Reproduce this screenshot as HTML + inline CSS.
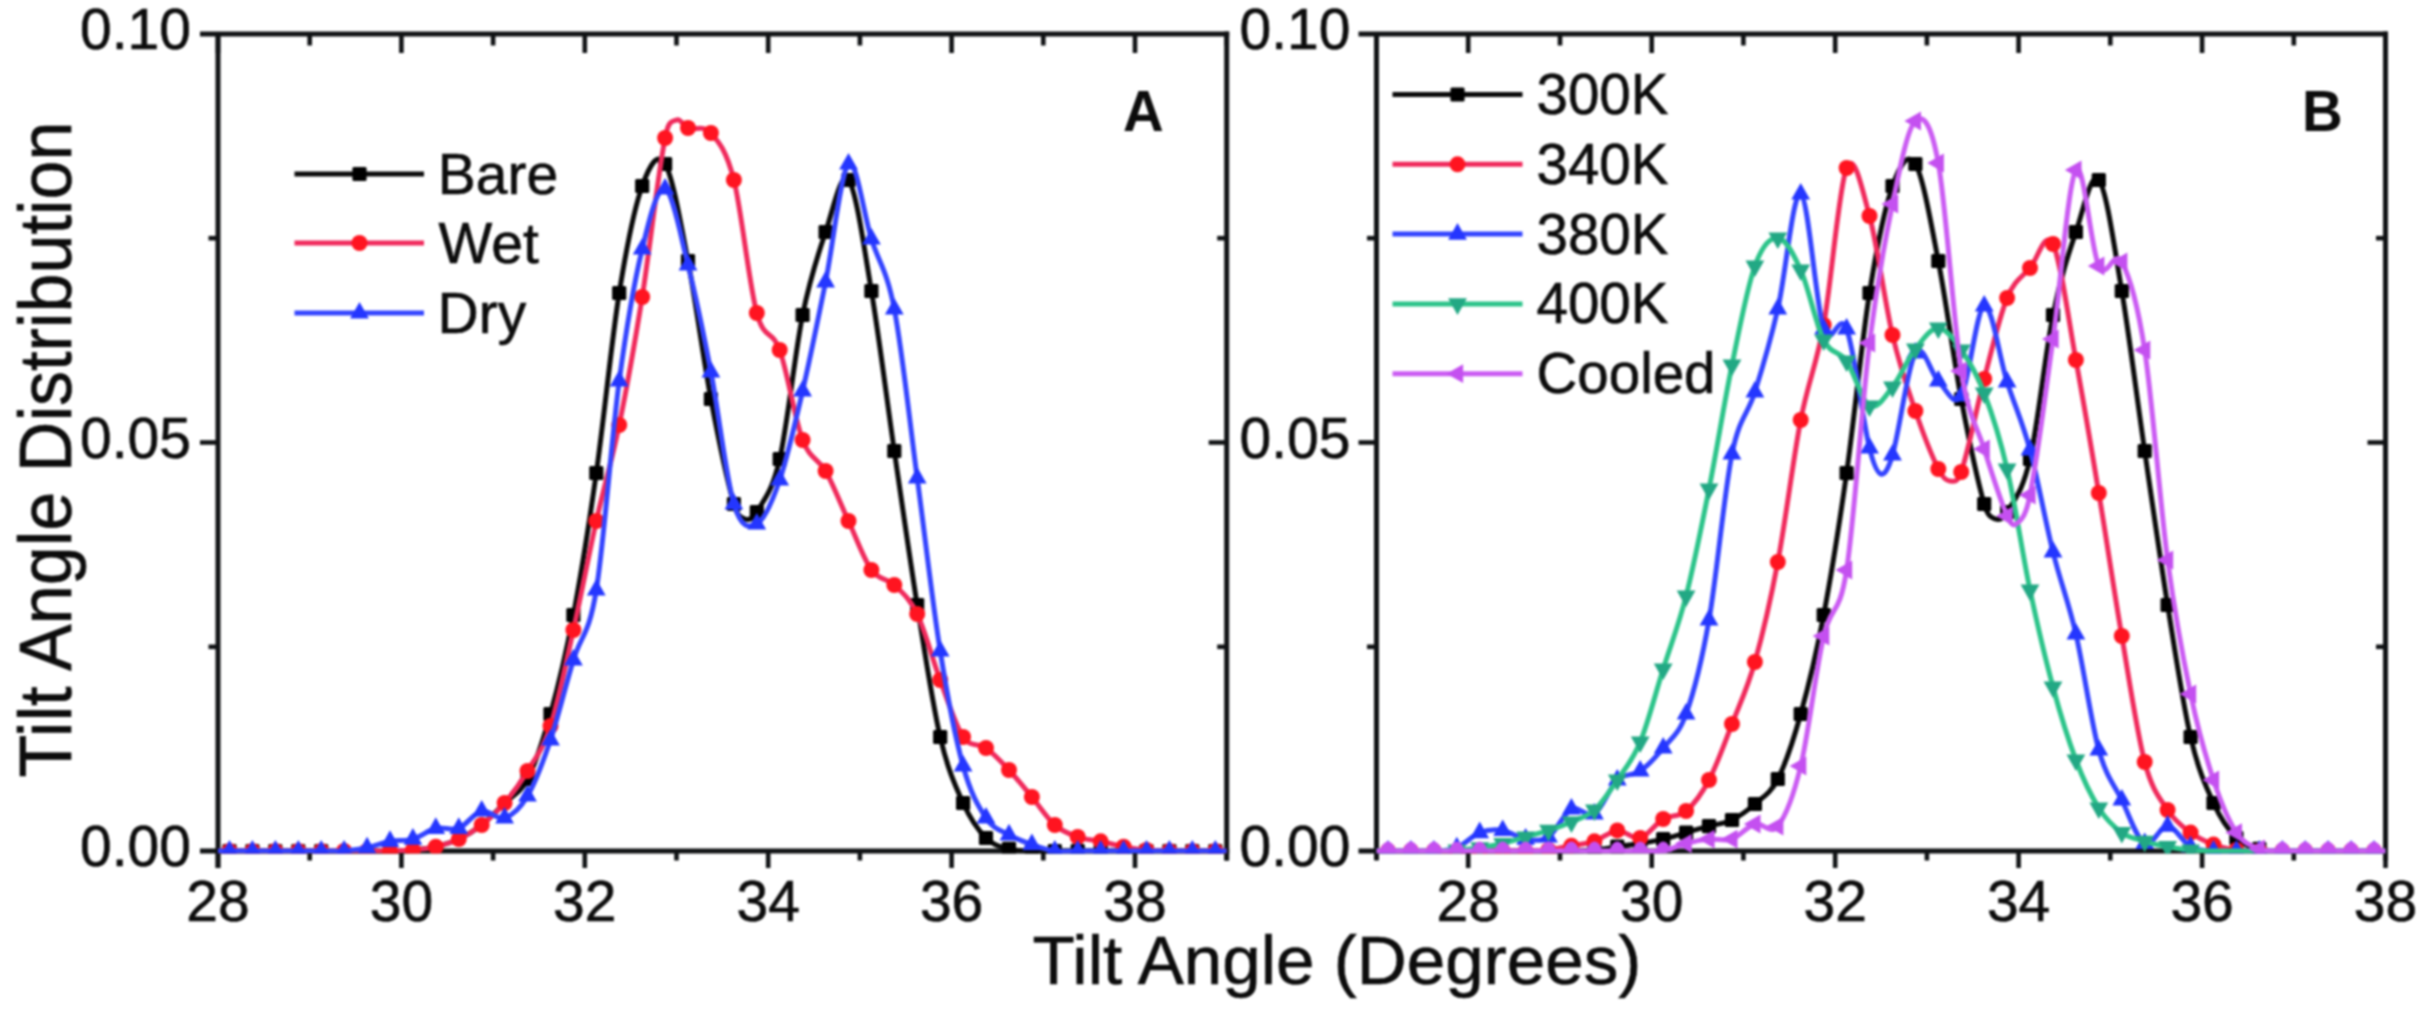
<!DOCTYPE html>
<html lang="en"><head><meta charset="utf-8"><title>Tilt Angle Distribution</title>
<style>
html,body{margin:0;padding:0;background:#fff;}
body{width:2421px;height:1010px;overflow:hidden;font-family:"Liberation Sans",Arial,sans-serif;}
</style></head><body>
<svg width="2421" height="1010" viewBox="0 0 2421 1010" style="display:block;filter:blur(1.3px)">
<rect width="2421" height="1010" fill="#ffffff"/>
<path d="M200.0 34.0 H1229.2" stroke="#101214" stroke-width="5" fill="none"/>
<path d="M200.0 851.0 H1229.2" stroke="#101214" stroke-width="5" fill="none"/>
<path d="M218.0 34.0 V868.0" stroke="#101214" stroke-width="5" fill="none"/>
<path d="M1226.7 31.5 V860.5" stroke="#101214" stroke-width="5" fill="none"/>
<path d="M218.0 34.0 v19.0 M218.0 851.0 v17.0" stroke="#101214" stroke-width="4.6" fill="none"/>
<path d="M309.7 34.0 v11.5 M309.7 851.0 v9.5" stroke="#101214" stroke-width="4.6" fill="none"/>
<path d="M401.4 34.0 v19.0 M401.4 851.0 v17.0" stroke="#101214" stroke-width="4.6" fill="none"/>
<path d="M493.1 34.0 v11.5 M493.1 851.0 v9.5" stroke="#101214" stroke-width="4.6" fill="none"/>
<path d="M584.8 34.0 v19.0 M584.8 851.0 v17.0" stroke="#101214" stroke-width="4.6" fill="none"/>
<path d="M676.5 34.0 v11.5 M676.5 851.0 v9.5" stroke="#101214" stroke-width="4.6" fill="none"/>
<path d="M768.2 34.0 v19.0 M768.2 851.0 v17.0" stroke="#101214" stroke-width="4.6" fill="none"/>
<path d="M859.9 34.0 v11.5 M859.9 851.0 v9.5" stroke="#101214" stroke-width="4.6" fill="none"/>
<path d="M951.6 34.0 v19.0 M951.6 851.0 v17.0" stroke="#101214" stroke-width="4.6" fill="none"/>
<path d="M1043.3 34.0 v11.5 M1043.3 851.0 v9.5" stroke="#101214" stroke-width="4.6" fill="none"/>
<path d="M1135.0 34.0 v19.0 M1135.0 851.0 v17.0" stroke="#101214" stroke-width="4.6" fill="none"/>
<path d="M1226.7 34.0 v11.5 M1226.7 851.0 v9.5" stroke="#101214" stroke-width="4.6" fill="none"/>
<path d="M208.5 646.8 h9.5" stroke="#101214" stroke-width="4.6" fill="none"/>
<path d="M1217.2 646.8 h9.5" stroke="#101214" stroke-width="4.6" fill="none"/>
<path d="M200.0 442.5 h18.0" stroke="#101214" stroke-width="4.6" fill="none"/>
<path d="M1208.7 442.5 h18.0" stroke="#101214" stroke-width="4.6" fill="none"/>
<path d="M208.5 238.2 h9.5" stroke="#101214" stroke-width="4.6" fill="none"/>
<path d="M1217.2 238.2 h9.5" stroke="#101214" stroke-width="4.6" fill="none"/>
<path d="M1358.5 34.0 H2388.0" stroke="#101214" stroke-width="5" fill="none"/>
<path d="M1358.5 851.0 H2388.0" stroke="#101214" stroke-width="5" fill="none"/>
<path d="M1376.5 34.0 V860.0" stroke="#101214" stroke-width="5" fill="none"/>
<path d="M2385.5 31.5 V860.5" stroke="#101214" stroke-width="5" fill="none"/>
<path d="M1376.5 34.0 v11.5 M1376.5 851.0 v9.5" stroke="#101214" stroke-width="4.6" fill="none"/>
<path d="M1468.2 34.0 v19.0 M1468.2 851.0 v17.0" stroke="#101214" stroke-width="4.6" fill="none"/>
<path d="M1560.0 34.0 v11.5 M1560.0 851.0 v9.5" stroke="#101214" stroke-width="4.6" fill="none"/>
<path d="M1651.7 34.0 v19.0 M1651.7 851.0 v17.0" stroke="#101214" stroke-width="4.6" fill="none"/>
<path d="M1743.4 34.0 v11.5 M1743.4 851.0 v9.5" stroke="#101214" stroke-width="4.6" fill="none"/>
<path d="M1835.2 34.0 v19.0 M1835.2 851.0 v17.0" stroke="#101214" stroke-width="4.6" fill="none"/>
<path d="M1926.9 34.0 v11.5 M1926.9 851.0 v9.5" stroke="#101214" stroke-width="4.6" fill="none"/>
<path d="M2018.6 34.0 v19.0 M2018.6 851.0 v17.0" stroke="#101214" stroke-width="4.6" fill="none"/>
<path d="M2110.3 34.0 v11.5 M2110.3 851.0 v9.5" stroke="#101214" stroke-width="4.6" fill="none"/>
<path d="M2202.1 34.0 v19.0 M2202.1 851.0 v17.0" stroke="#101214" stroke-width="4.6" fill="none"/>
<path d="M2293.8 34.0 v11.5 M2293.8 851.0 v9.5" stroke="#101214" stroke-width="4.6" fill="none"/>
<path d="M2385.5 34.0 v19.0 M2385.5 851.0 v17.0" stroke="#101214" stroke-width="4.6" fill="none"/>
<path d="M1367.0 646.8 h9.5" stroke="#101214" stroke-width="4.6" fill="none"/>
<path d="M2376.0 646.8 h9.5" stroke="#101214" stroke-width="4.6" fill="none"/>
<path d="M1358.5 442.5 h18.0" stroke="#101214" stroke-width="4.6" fill="none"/>
<path d="M2367.5 442.5 h18.0" stroke="#101214" stroke-width="4.6" fill="none"/>
<path d="M1367.0 238.2 h9.5" stroke="#101214" stroke-width="4.6" fill="none"/>
<path d="M2376.0 238.2 h9.5" stroke="#101214" stroke-width="4.6" fill="none"/>
<text x="218.0" y="920.5" font-size="57.0" text-anchor="middle" font-family="Liberation Sans, Arial, sans-serif" fill="#0c0c0c" stroke="#0c0c0c" stroke-width="0.6" >28</text>
<text x="1468.2" y="920.5" font-size="57.0" text-anchor="middle" font-family="Liberation Sans, Arial, sans-serif" fill="#0c0c0c" stroke="#0c0c0c" stroke-width="0.6" >28</text>
<text x="401.4" y="920.5" font-size="57.0" text-anchor="middle" font-family="Liberation Sans, Arial, sans-serif" fill="#0c0c0c" stroke="#0c0c0c" stroke-width="0.6" >30</text>
<text x="1651.7" y="920.5" font-size="57.0" text-anchor="middle" font-family="Liberation Sans, Arial, sans-serif" fill="#0c0c0c" stroke="#0c0c0c" stroke-width="0.6" >30</text>
<text x="584.8" y="920.5" font-size="57.0" text-anchor="middle" font-family="Liberation Sans, Arial, sans-serif" fill="#0c0c0c" stroke="#0c0c0c" stroke-width="0.6" >32</text>
<text x="1835.2" y="920.5" font-size="57.0" text-anchor="middle" font-family="Liberation Sans, Arial, sans-serif" fill="#0c0c0c" stroke="#0c0c0c" stroke-width="0.6" >32</text>
<text x="768.2" y="920.5" font-size="57.0" text-anchor="middle" font-family="Liberation Sans, Arial, sans-serif" fill="#0c0c0c" stroke="#0c0c0c" stroke-width="0.6" >34</text>
<text x="2018.6" y="920.5" font-size="57.0" text-anchor="middle" font-family="Liberation Sans, Arial, sans-serif" fill="#0c0c0c" stroke="#0c0c0c" stroke-width="0.6" >34</text>
<text x="951.6" y="920.5" font-size="57.0" text-anchor="middle" font-family="Liberation Sans, Arial, sans-serif" fill="#0c0c0c" stroke="#0c0c0c" stroke-width="0.6" >36</text>
<text x="2202.1" y="920.5" font-size="57.0" text-anchor="middle" font-family="Liberation Sans, Arial, sans-serif" fill="#0c0c0c" stroke="#0c0c0c" stroke-width="0.6" >36</text>
<text x="1135.0" y="920.5" font-size="57.0" text-anchor="middle" font-family="Liberation Sans, Arial, sans-serif" fill="#0c0c0c" stroke="#0c0c0c" stroke-width="0.6" >38</text>
<text x="2385.5" y="920.5" font-size="57.0" text-anchor="middle" font-family="Liberation Sans, Arial, sans-serif" fill="#0c0c0c" stroke="#0c0c0c" stroke-width="0.6" >38</text>
<text x="191.0" y="49.2" font-size="57.0" text-anchor="end" font-family="Liberation Sans, Arial, sans-serif" fill="#0c0c0c" stroke="#0c0c0c" stroke-width="0.6" >0.10</text>
<text x="1350.5" y="49.2" font-size="57.0" text-anchor="end" font-family="Liberation Sans, Arial, sans-serif" fill="#0c0c0c" stroke="#0c0c0c" stroke-width="0.6" >0.10</text>
<text x="191.0" y="457.7" font-size="57.0" text-anchor="end" font-family="Liberation Sans, Arial, sans-serif" fill="#0c0c0c" stroke="#0c0c0c" stroke-width="0.6" >0.05</text>
<text x="1350.5" y="457.7" font-size="57.0" text-anchor="end" font-family="Liberation Sans, Arial, sans-serif" fill="#0c0c0c" stroke="#0c0c0c" stroke-width="0.6" >0.05</text>
<text x="191.0" y="866.2" font-size="57.0" text-anchor="end" font-family="Liberation Sans, Arial, sans-serif" fill="#0c0c0c" stroke="#0c0c0c" stroke-width="0.6" >0.00</text>
<text x="1350.5" y="866.2" font-size="57.0" text-anchor="end" font-family="Liberation Sans, Arial, sans-serif" fill="#0c0c0c" stroke="#0c0c0c" stroke-width="0.6" >0.00</text>
<text x="1337.0" y="983.5" font-size="69.2" text-anchor="middle" font-family="Liberation Sans, Arial, sans-serif" fill="#0c0c0c" stroke="#0c0c0c" stroke-width="0.6" >Tilt Angle (Degrees)</text>
<text transform="translate(71.4,449.5) rotate(-90) scale(1,1.045)" font-size="70.1" text-anchor="middle" font-family="Liberation Sans, Arial, sans-serif" fill="#0c0c0c" stroke="#0c0c0c" stroke-width="0.6">Tilt Angle Distribution</text>
<text transform="translate(1143.3,130.5) scale(0.98,1)" font-size="57.5" text-anchor="middle" font-weight="bold" font-family="Liberation Sans, Arial, sans-serif" fill="#0c0c0c">A</text>
<text transform="translate(2322.3,130.5) scale(0.98,1)" font-size="57.5" text-anchor="middle" font-weight="bold" font-family="Liberation Sans, Arial, sans-serif" fill="#0c0c0c">B</text>
<clipPath id="cl"><rect x="218.0" y="34.0" width="1008.7" height="819.6"/></clipPath><clipPath id="cr"><rect x="1376.5" y="34.0" width="1009.0" height="819.6"/></clipPath>
<g clip-path="url(#cl)">
<path d="M218.0 851.0C221.8 851.0 225.7 851.0 229.5 851.0C237.1 851.0 244.8 851.0 252.4 851.0C260.1 851.0 267.7 851.0 275.4 851.0C283.0 851.0 290.6 851.0 298.3 851.0C305.9 851.0 313.6 850.7 321.2 851.0C328.8 851.3 336.5 852.7 344.1 853.0C351.8 853.3 359.4 853.0 367.1 853.0C374.7 853.0 382.3 853.5 390.0 853.0C397.6 852.5 405.3 851.0 412.9 850.0C420.5 849.0 428.2 848.6 435.8 846.7C443.5 844.9 451.1 842.8 458.8 839.1C466.4 835.5 474.0 831.0 481.7 825.0C489.3 819.0 497.0 810.7 504.6 803.0C512.2 795.3 519.9 793.8 527.5 779.0C535.2 764.2 542.8 741.3 550.5 714.0C558.1 686.7 565.7 655.2 573.4 615.0C581.0 574.8 588.7 526.7 596.3 473.0C603.9 419.3 611.6 340.8 619.2 293.0C626.9 245.2 634.5 207.5 642.2 186.0C649.8 164.5 657.4 151.5 665.1 164.0C672.7 176.5 680.4 221.8 688.0 261.0C695.6 300.2 703.3 358.5 710.9 399.0C718.6 439.5 726.2 477.3 733.9 504.0C737.7 517.3 741.5 517.7 745.3 519.0C749.1 520.3 753.0 518.7 756.8 512.0C764.4 498.7 772.1 491.8 779.7 459.0C787.3 426.2 795.0 352.8 802.6 315.0C810.3 277.2 817.9 254.5 825.6 232.0C833.2 209.5 840.8 170.2 848.5 180.0C856.1 189.8 863.8 245.8 871.4 291.0C879.0 336.2 886.7 398.7 894.3 451.0C902.0 503.3 909.6 557.3 917.2 605.0C924.9 652.7 932.5 704.0 940.2 737.0C947.8 770.0 955.5 786.2 963.1 803.0C970.7 819.8 978.4 830.4 986.0 838.0C993.7 845.7 1001.3 846.8 1009.0 848.9C1016.6 851.1 1024.2 850.7 1031.9 851.0C1039.5 851.3 1047.2 851.0 1054.8 851.0C1062.4 851.0 1070.1 851.0 1077.7 851.0C1085.4 851.0 1093.0 851.0 1100.7 851.0C1108.3 851.0 1115.9 851.0 1123.6 851.0C1131.2 851.0 1138.9 851.0 1146.5 851.0C1154.1 851.0 1161.8 851.0 1169.4 851.0C1177.1 851.0 1184.7 851.0 1192.3 851.0C1200.0 851.0 1207.6 851.0 1215.3 851.0C1219.1 851.0 1222.9 851.0 1226.7 851.0" fill="none" stroke="#0a0a0a" stroke-width="5.0" stroke-linejoin="round"/>
<rect x="222.4" y="843.9" width="14.2" height="14.2" rx="1.5" fill="#000000"/>
<rect x="245.3" y="843.9" width="14.2" height="14.2" rx="1.5" fill="#000000"/>
<rect x="268.2" y="843.9" width="14.2" height="14.2" rx="1.5" fill="#000000"/>
<rect x="291.2" y="843.9" width="14.2" height="14.2" rx="1.5" fill="#000000"/>
<rect x="314.1" y="843.9" width="14.2" height="14.2" rx="1.5" fill="#000000"/>
<rect x="520.4" y="771.9" width="14.2" height="14.2" rx="1.5" fill="#000000"/>
<rect x="543.4" y="706.9" width="14.2" height="14.2" rx="1.5" fill="#000000"/>
<rect x="566.3" y="607.9" width="14.2" height="14.2" rx="1.5" fill="#000000"/>
<rect x="589.2" y="465.9" width="14.2" height="14.2" rx="1.5" fill="#000000"/>
<rect x="612.1" y="285.9" width="14.2" height="14.2" rx="1.5" fill="#000000"/>
<rect x="635.1" y="178.9" width="14.2" height="14.2" rx="1.5" fill="#000000"/>
<rect x="658.0" y="156.9" width="14.2" height="14.2" rx="1.5" fill="#000000"/>
<rect x="680.9" y="253.9" width="14.2" height="14.2" rx="1.5" fill="#000000"/>
<rect x="703.8" y="391.9" width="14.2" height="14.2" rx="1.5" fill="#000000"/>
<rect x="726.8" y="496.9" width="14.2" height="14.2" rx="1.5" fill="#000000"/>
<rect x="749.7" y="504.9" width="14.2" height="14.2" rx="1.5" fill="#000000"/>
<rect x="772.6" y="451.9" width="14.2" height="14.2" rx="1.5" fill="#000000"/>
<rect x="795.5" y="307.9" width="14.2" height="14.2" rx="1.5" fill="#000000"/>
<rect x="818.5" y="224.9" width="14.2" height="14.2" rx="1.5" fill="#000000"/>
<rect x="841.4" y="172.9" width="14.2" height="14.2" rx="1.5" fill="#000000"/>
<rect x="864.3" y="283.9" width="14.2" height="14.2" rx="1.5" fill="#000000"/>
<rect x="887.2" y="443.9" width="14.2" height="14.2" rx="1.5" fill="#000000"/>
<rect x="910.1" y="597.9" width="14.2" height="14.2" rx="1.5" fill="#000000"/>
<rect x="933.1" y="729.9" width="14.2" height="14.2" rx="1.5" fill="#000000"/>
<rect x="956.0" y="795.9" width="14.2" height="14.2" rx="1.5" fill="#000000"/>
<rect x="978.9" y="830.9" width="14.2" height="14.2" rx="1.5" fill="#000000"/>
<rect x="1001.9" y="841.8" width="14.2" height="14.2" rx="1.5" fill="#000000"/>
<rect x="1024.8" y="843.9" width="14.2" height="14.2" rx="1.5" fill="#000000"/>
<rect x="1047.7" y="843.9" width="14.2" height="14.2" rx="1.5" fill="#000000"/>
<rect x="1070.6" y="843.9" width="14.2" height="14.2" rx="1.5" fill="#000000"/>
<rect x="1093.6" y="843.9" width="14.2" height="14.2" rx="1.5" fill="#000000"/>
<rect x="1116.5" y="843.9" width="14.2" height="14.2" rx="1.5" fill="#000000"/>
<rect x="1139.4" y="843.9" width="14.2" height="14.2" rx="1.5" fill="#000000"/>
<rect x="1162.3" y="843.9" width="14.2" height="14.2" rx="1.5" fill="#000000"/>
<rect x="1185.2" y="843.9" width="14.2" height="14.2" rx="1.5" fill="#000000"/>
<rect x="1208.2" y="843.9" width="14.2" height="14.2" rx="1.5" fill="#000000"/>
<path d="M218.0 851.0C221.8 851.0 225.7 851.0 229.5 851.0C237.1 851.0 244.8 851.0 252.4 851.0C260.1 851.0 267.7 851.0 275.4 851.0C283.0 851.0 290.6 851.0 298.3 851.0C305.9 851.0 313.6 851.0 321.2 851.0C328.8 851.0 336.5 851.0 344.1 851.0C351.8 851.0 359.4 851.0 367.1 851.0C374.7 851.0 382.3 851.2 390.0 851.0C397.6 850.8 405.3 850.7 412.9 850.0C420.5 849.3 428.2 848.6 435.8 846.7C443.5 844.9 451.1 842.8 458.8 839.1C466.4 835.5 474.0 831.0 481.7 825.0C489.3 819.0 497.0 812.0 504.6 803.0C512.2 794.0 519.9 783.8 527.5 771.0C535.2 758.2 542.8 749.5 550.5 726.0C558.1 702.5 565.7 664.2 573.4 630.0C581.0 595.8 588.7 555.2 596.3 521.0C603.9 486.8 611.6 462.3 619.2 425.0C626.9 387.7 634.5 344.8 642.2 297.0C649.8 249.2 657.4 177.3 665.1 138.0C668.9 118.3 672.7 121.7 676.5 120.0C680.4 118.3 684.2 126.6 688.0 128.0C695.6 130.9 703.3 124.3 710.9 133.0C718.6 141.7 726.2 150.0 733.9 180.0C741.5 210.0 749.1 284.7 756.8 313.0C764.4 341.3 772.1 328.8 779.7 350.0C787.3 371.2 795.0 419.8 802.6 440.0C810.3 460.2 817.9 457.5 825.6 471.0C833.2 484.5 840.8 504.5 848.5 521.0C856.1 537.5 863.8 559.3 871.4 570.0C879.0 580.7 886.7 577.7 894.3 585.0C902.0 592.3 909.6 598.2 917.2 614.0C924.9 629.8 932.5 659.5 940.2 680.0C947.8 700.5 955.5 725.7 963.1 737.0C970.7 748.3 978.4 742.5 986.0 748.0C993.7 753.5 1001.3 761.8 1009.0 770.0C1016.6 778.2 1024.2 787.8 1031.9 797.0C1039.5 806.2 1047.2 818.3 1054.8 825.0C1062.4 831.7 1070.1 834.2 1077.7 837.0C1085.4 839.7 1093.0 839.7 1100.7 841.3C1108.3 842.9 1115.9 845.3 1123.6 846.7C1131.2 848.2 1138.9 849.3 1146.5 850.0C1154.1 850.7 1161.8 850.8 1169.4 851.0C1177.1 851.2 1184.7 851.0 1192.3 851.0C1200.0 851.0 1207.6 851.0 1215.3 851.0C1219.1 851.0 1222.9 851.0 1226.7 851.0" fill="none" stroke="#f02a5c" stroke-width="5.0" stroke-linejoin="round"/>
<circle cx="229.5" cy="851.0" r="8.0" fill="#ff1420"/>
<circle cx="252.4" cy="851.0" r="8.0" fill="#ff1420"/>
<circle cx="275.4" cy="851.0" r="8.0" fill="#ff1420"/>
<circle cx="298.3" cy="851.0" r="8.0" fill="#ff1420"/>
<circle cx="321.2" cy="851.0" r="8.0" fill="#ff1420"/>
<circle cx="344.1" cy="851.0" r="8.0" fill="#ff1420"/>
<circle cx="367.1" cy="851.0" r="8.0" fill="#ff1420"/>
<circle cx="390.0" cy="851.0" r="8.0" fill="#ff1420"/>
<circle cx="412.9" cy="850.0" r="8.0" fill="#ff1420"/>
<circle cx="435.8" cy="846.7" r="8.0" fill="#ff1420"/>
<circle cx="458.8" cy="839.1" r="8.0" fill="#ff1420"/>
<circle cx="481.7" cy="825.0" r="8.0" fill="#ff1420"/>
<circle cx="504.6" cy="803.0" r="8.0" fill="#ff1420"/>
<circle cx="527.5" cy="771.0" r="8.0" fill="#ff1420"/>
<circle cx="550.5" cy="726.0" r="8.0" fill="#ff1420"/>
<circle cx="573.4" cy="630.0" r="8.0" fill="#ff1420"/>
<circle cx="596.3" cy="521.0" r="8.0" fill="#ff1420"/>
<circle cx="619.2" cy="425.0" r="8.0" fill="#ff1420"/>
<circle cx="642.2" cy="297.0" r="8.0" fill="#ff1420"/>
<circle cx="665.1" cy="138.0" r="8.0" fill="#ff1420"/>
<circle cx="688.0" cy="128.0" r="8.0" fill="#ff1420"/>
<circle cx="710.9" cy="133.0" r="8.0" fill="#ff1420"/>
<circle cx="733.9" cy="180.0" r="8.0" fill="#ff1420"/>
<circle cx="756.8" cy="313.0" r="8.0" fill="#ff1420"/>
<circle cx="779.7" cy="350.0" r="8.0" fill="#ff1420"/>
<circle cx="802.6" cy="440.0" r="8.0" fill="#ff1420"/>
<circle cx="825.6" cy="471.0" r="8.0" fill="#ff1420"/>
<circle cx="848.5" cy="521.0" r="8.0" fill="#ff1420"/>
<circle cx="871.4" cy="570.0" r="8.0" fill="#ff1420"/>
<circle cx="894.3" cy="585.0" r="8.0" fill="#ff1420"/>
<circle cx="917.2" cy="614.0" r="8.0" fill="#ff1420"/>
<circle cx="940.2" cy="680.0" r="8.0" fill="#ff1420"/>
<circle cx="963.1" cy="737.0" r="8.0" fill="#ff1420"/>
<circle cx="986.0" cy="748.0" r="8.0" fill="#ff1420"/>
<circle cx="1009.0" cy="770.0" r="8.0" fill="#ff1420"/>
<circle cx="1031.9" cy="797.0" r="8.0" fill="#ff1420"/>
<circle cx="1054.8" cy="825.0" r="8.0" fill="#ff1420"/>
<circle cx="1077.7" cy="837.0" r="8.0" fill="#ff1420"/>
<circle cx="1100.7" cy="841.3" r="8.0" fill="#ff1420"/>
<circle cx="1123.6" cy="846.7" r="8.0" fill="#ff1420"/>
<circle cx="1146.5" cy="850.0" r="8.0" fill="#ff1420"/>
<circle cx="1169.4" cy="851.0" r="8.0" fill="#ff1420"/>
<circle cx="1192.3" cy="851.0" r="8.0" fill="#ff1420"/>
<circle cx="1215.3" cy="851.0" r="8.0" fill="#ff1420"/>
<path d="M218.0 851.0C221.8 851.0 225.7 851.0 229.5 851.0C237.1 851.0 244.8 851.0 252.4 851.0C260.1 851.0 267.7 851.0 275.4 851.0C283.0 851.0 290.6 851.0 298.3 851.0C305.9 851.0 313.6 851.0 321.2 851.0C328.8 851.0 336.5 851.5 344.1 851.0C351.8 850.5 359.4 849.4 367.1 847.8C374.7 846.2 382.3 842.8 390.0 841.3C397.6 839.9 405.3 841.3 412.9 839.1C420.5 837.0 428.2 830.1 435.8 828.3C443.5 826.4 451.1 831.1 458.8 828.3C466.4 825.4 474.0 812.7 481.7 811.0C489.3 809.3 497.0 820.5 504.6 818.0C512.2 815.5 519.9 809.0 527.5 796.0C535.2 783.0 542.8 762.7 550.5 740.0C558.1 717.3 565.7 685.0 573.4 660.0C581.0 635.0 588.7 636.5 596.3 590.0C603.9 543.5 611.6 437.8 619.2 381.0C626.9 324.2 634.5 281.0 642.2 249.0C649.8 217.0 657.4 186.3 665.1 189.0C672.7 191.7 680.4 234.5 688.0 265.0C695.6 295.5 703.3 332.2 710.9 372.0C718.6 411.8 726.2 478.7 733.9 504.0C741.5 529.3 749.1 528.0 756.8 524.0C764.4 520.0 772.1 502.2 779.7 480.0C787.3 457.8 795.0 424.0 802.6 391.0C810.3 358.0 817.9 319.8 825.6 282.0C833.2 244.2 840.8 171.2 848.5 164.0C856.1 156.8 863.8 214.8 871.4 239.0C879.0 263.2 886.7 269.2 894.3 309.0C902.0 348.8 909.6 421.0 917.2 478.0C924.9 535.0 932.5 603.0 940.2 651.0C947.8 699.0 955.5 738.2 963.1 766.0C970.7 793.8 978.4 806.5 986.0 818.0C993.7 829.5 1001.3 830.4 1009.0 834.8C1016.6 839.2 1024.2 841.9 1031.9 844.6C1039.5 847.3 1047.2 849.9 1054.8 851.0C1062.4 852.1 1070.1 851.0 1077.7 851.0C1085.4 851.0 1093.0 851.0 1100.7 851.0C1108.3 851.0 1115.9 851.0 1123.6 851.0C1131.2 851.0 1138.9 851.0 1146.5 851.0C1154.1 851.0 1161.8 851.0 1169.4 851.0C1177.1 851.0 1184.7 851.0 1192.3 851.0C1200.0 851.0 1207.6 851.0 1215.3 851.0C1219.1 851.0 1222.9 851.0 1226.7 851.0" fill="none" stroke="#3444ff" stroke-width="5.0" stroke-linejoin="round"/>
<polygon points="229.5,840.0 238.9,856.6 220.1,856.6" fill="#2436ff"/>
<polygon points="252.4,840.0 261.8,856.6 243.0,856.6" fill="#2436ff"/>
<polygon points="275.4,840.0 284.8,856.6 266.0,856.6" fill="#2436ff"/>
<polygon points="298.3,840.0 307.7,856.6 288.9,856.6" fill="#2436ff"/>
<polygon points="321.2,840.0 330.6,856.6 311.8,856.6" fill="#2436ff"/>
<polygon points="344.1,840.0 353.5,856.6 334.7,856.6" fill="#2436ff"/>
<polygon points="367.1,836.8 376.4,853.4 357.7,853.4" fill="#2436ff"/>
<polygon points="390.0,830.3 399.4,846.9 380.6,846.9" fill="#2436ff"/>
<polygon points="412.9,828.1 422.3,844.7 403.5,844.7" fill="#2436ff"/>
<polygon points="435.8,817.3 445.2,833.9 426.4,833.9" fill="#2436ff"/>
<polygon points="458.8,817.3 468.1,833.9 449.4,833.9" fill="#2436ff"/>
<polygon points="481.7,800.0 491.1,816.6 472.3,816.6" fill="#2436ff"/>
<polygon points="504.6,807.0 514.0,823.6 495.2,823.6" fill="#2436ff"/>
<polygon points="527.5,785.0 536.9,801.6 518.1,801.6" fill="#2436ff"/>
<polygon points="550.5,729.0 559.9,745.6 541.1,745.6" fill="#2436ff"/>
<polygon points="573.4,649.0 582.8,665.6 564.0,665.6" fill="#2436ff"/>
<polygon points="596.3,579.0 605.7,595.6 586.9,595.6" fill="#2436ff"/>
<polygon points="619.2,370.0 628.6,386.6 609.8,386.6" fill="#2436ff"/>
<polygon points="642.2,238.0 651.6,254.6 632.8,254.6" fill="#2436ff"/>
<polygon points="665.1,178.0 674.5,194.6 655.7,194.6" fill="#2436ff"/>
<polygon points="688.0,254.0 697.4,270.6 678.6,270.6" fill="#2436ff"/>
<polygon points="710.9,361.0 720.3,377.6 701.5,377.6" fill="#2436ff"/>
<polygon points="733.9,493.0 743.2,509.6 724.5,509.6" fill="#2436ff"/>
<polygon points="756.8,513.0 766.2,529.6 747.4,529.6" fill="#2436ff"/>
<polygon points="779.7,469.0 789.1,485.6 770.3,485.6" fill="#2436ff"/>
<polygon points="802.6,380.0 812.0,396.6 793.2,396.6" fill="#2436ff"/>
<polygon points="825.6,271.0 835.0,287.6 816.2,287.6" fill="#2436ff"/>
<polygon points="848.5,153.0 857.9,169.6 839.1,169.6" fill="#2436ff"/>
<polygon points="871.4,228.0 880.8,244.6 862.0,244.6" fill="#2436ff"/>
<polygon points="894.3,298.0 903.7,314.6 884.9,314.6" fill="#2436ff"/>
<polygon points="917.2,467.0 926.6,483.6 907.9,483.6" fill="#2436ff"/>
<polygon points="940.2,640.0 949.6,656.6 930.8,656.6" fill="#2436ff"/>
<polygon points="963.1,755.0 972.5,771.6 953.7,771.6" fill="#2436ff"/>
<polygon points="986.0,807.0 995.4,823.6 976.6,823.6" fill="#2436ff"/>
<polygon points="1009.0,823.8 1018.4,840.4 999.6,840.4" fill="#2436ff"/>
<polygon points="1031.9,833.6 1041.3,850.2 1022.5,850.2" fill="#2436ff"/>
<polygon points="1054.8,840.0 1064.2,856.6 1045.4,856.6" fill="#2436ff"/>
<polygon points="1077.7,840.0 1087.1,856.6 1068.3,856.6" fill="#2436ff"/>
<polygon points="1100.7,840.0 1110.1,856.6 1091.2,856.6" fill="#2436ff"/>
<polygon points="1123.6,840.0 1133.0,856.6 1114.2,856.6" fill="#2436ff"/>
<polygon points="1146.5,840.0 1155.9,856.6 1137.1,856.6" fill="#2436ff"/>
<polygon points="1169.4,840.0 1178.8,856.6 1160.0,856.6" fill="#2436ff"/>
<polygon points="1192.3,840.0 1201.8,856.6 1182.9,856.6" fill="#2436ff"/>
<polygon points="1215.3,840.0 1224.7,856.6 1205.9,856.6" fill="#2436ff"/>
</g><g clip-path="url(#cr)">
<path d="M1376.5 851.0C1380.3 851.0 1384.2 851.0 1388.0 851.0C1395.6 851.0 1403.3 851.0 1410.9 851.0C1418.6 851.0 1426.2 851.0 1433.9 851.0C1441.5 851.0 1449.1 851.0 1456.8 851.0C1464.4 851.0 1472.1 851.0 1479.7 851.0C1487.4 851.0 1495.0 851.0 1502.7 851.0C1510.3 851.0 1517.9 851.0 1525.6 851.0C1533.2 851.0 1540.9 851.0 1548.5 851.0C1556.2 851.0 1563.8 851.2 1571.4 851.0C1579.1 850.8 1586.7 850.7 1594.4 850.0C1602.0 849.3 1609.7 847.8 1617.3 846.7C1624.9 845.7 1632.6 844.7 1640.2 843.5C1647.9 842.2 1655.5 840.9 1663.2 839.1C1670.8 837.3 1678.4 834.8 1686.1 832.6C1693.7 830.4 1701.4 828.2 1709.0 826.1C1716.7 824.0 1724.3 823.7 1732.0 820.0C1739.6 816.3 1747.2 810.8 1754.9 804.0C1762.5 797.2 1770.2 794.0 1777.8 779.0C1785.5 764.0 1793.1 741.3 1800.7 714.0C1808.4 686.7 1816.0 655.2 1823.7 615.0C1831.3 574.8 1839.0 526.7 1846.6 473.0C1854.2 419.3 1861.9 340.8 1869.5 293.0C1877.2 245.2 1884.8 207.5 1892.5 186.0C1900.1 164.5 1907.7 151.5 1915.4 164.0C1923.0 176.5 1930.7 221.8 1938.3 261.0C1946.0 300.2 1953.6 358.5 1961.2 399.0C1968.9 439.5 1976.5 477.3 1984.2 504.0C1988.0 517.3 1991.8 517.7 1995.6 519.0C1999.5 520.3 2003.3 518.7 2007.1 512.0C2014.8 498.7 2022.4 491.8 2030.0 459.0C2037.7 426.2 2045.3 352.8 2053.0 315.0C2060.6 277.2 2068.3 254.5 2075.9 232.0C2083.5 209.5 2091.2 170.2 2098.8 180.0C2106.5 189.8 2114.1 245.8 2121.8 291.0C2129.4 336.2 2137.0 398.7 2144.7 451.0C2152.3 503.3 2160.0 557.3 2167.6 605.0C2175.3 652.7 2182.9 704.0 2190.6 737.0C2198.2 770.0 2205.8 786.2 2213.5 803.0C2221.1 819.8 2228.8 830.4 2236.4 838.0C2244.1 845.7 2251.7 846.8 2259.3 848.9C2267.0 851.1 2274.6 850.7 2282.3 851.0C2289.9 851.3 2297.6 851.0 2305.2 851.0C2312.8 851.0 2320.5 851.0 2328.1 851.0C2335.8 851.0 2343.4 851.0 2351.1 851.0C2358.7 851.0 2366.3 851.0 2374.0 851.0C2377.8 851.0 2381.7 851.0 2385.5 851.0" fill="none" stroke="#0a0a0a" stroke-width="5.0" stroke-linejoin="round"/>
<rect x="1587.3" y="842.9" width="14.2" height="14.2" rx="1.5" fill="#000000"/>
<rect x="1610.2" y="839.6" width="14.2" height="14.2" rx="1.5" fill="#000000"/>
<rect x="1633.1" y="836.4" width="14.2" height="14.2" rx="1.5" fill="#000000"/>
<rect x="1656.1" y="832.0" width="14.2" height="14.2" rx="1.5" fill="#000000"/>
<rect x="1679.0" y="825.5" width="14.2" height="14.2" rx="1.5" fill="#000000"/>
<rect x="1701.9" y="819.0" width="14.2" height="14.2" rx="1.5" fill="#000000"/>
<rect x="1724.9" y="812.9" width="14.2" height="14.2" rx="1.5" fill="#000000"/>
<rect x="1747.8" y="796.9" width="14.2" height="14.2" rx="1.5" fill="#000000"/>
<rect x="1770.7" y="771.9" width="14.2" height="14.2" rx="1.5" fill="#000000"/>
<rect x="1793.6" y="706.9" width="14.2" height="14.2" rx="1.5" fill="#000000"/>
<rect x="1816.6" y="607.9" width="14.2" height="14.2" rx="1.5" fill="#000000"/>
<rect x="1839.5" y="465.9" width="14.2" height="14.2" rx="1.5" fill="#000000"/>
<rect x="1862.4" y="285.9" width="14.2" height="14.2" rx="1.5" fill="#000000"/>
<rect x="1885.4" y="178.9" width="14.2" height="14.2" rx="1.5" fill="#000000"/>
<rect x="1908.3" y="156.9" width="14.2" height="14.2" rx="1.5" fill="#000000"/>
<rect x="1931.2" y="253.9" width="14.2" height="14.2" rx="1.5" fill="#000000"/>
<rect x="1954.2" y="391.9" width="14.2" height="14.2" rx="1.5" fill="#000000"/>
<rect x="1977.1" y="496.9" width="14.2" height="14.2" rx="1.5" fill="#000000"/>
<rect x="2000.0" y="504.9" width="14.2" height="14.2" rx="1.5" fill="#000000"/>
<rect x="2022.9" y="451.9" width="14.2" height="14.2" rx="1.5" fill="#000000"/>
<rect x="2045.9" y="307.9" width="14.2" height="14.2" rx="1.5" fill="#000000"/>
<rect x="2068.8" y="224.9" width="14.2" height="14.2" rx="1.5" fill="#000000"/>
<rect x="2091.7" y="172.9" width="14.2" height="14.2" rx="1.5" fill="#000000"/>
<rect x="2114.7" y="283.9" width="14.2" height="14.2" rx="1.5" fill="#000000"/>
<rect x="2137.6" y="443.9" width="14.2" height="14.2" rx="1.5" fill="#000000"/>
<rect x="2160.5" y="597.9" width="14.2" height="14.2" rx="1.5" fill="#000000"/>
<rect x="2183.5" y="729.9" width="14.2" height="14.2" rx="1.5" fill="#000000"/>
<rect x="2206.4" y="795.9" width="14.2" height="14.2" rx="1.5" fill="#000000"/>
<rect x="2229.3" y="830.9" width="14.2" height="14.2" rx="1.5" fill="#000000"/>
<rect x="2252.2" y="841.8" width="14.2" height="14.2" rx="1.5" fill="#000000"/>
<path d="M1376.5 851.0C1380.3 851.0 1384.2 851.0 1388.0 851.0C1395.6 851.0 1403.3 851.0 1410.9 851.0C1418.6 851.0 1426.2 851.0 1433.9 851.0C1441.5 851.0 1449.1 851.0 1456.8 851.0C1464.4 851.0 1472.1 851.0 1479.7 851.0C1487.4 851.0 1495.0 851.0 1502.7 851.0C1510.3 851.0 1517.9 851.2 1525.6 851.0C1533.2 850.8 1540.9 850.9 1548.5 850.0C1556.2 849.1 1563.8 847.1 1571.4 845.7C1579.1 844.2 1586.7 843.8 1594.4 841.3C1602.0 838.8 1609.7 831.0 1617.3 830.4C1624.9 829.9 1632.6 839.9 1640.2 838.0C1647.9 836.1 1655.5 823.5 1663.2 819.0C1670.8 814.5 1678.4 817.5 1686.1 811.0C1693.7 804.5 1701.4 794.5 1709.0 780.0C1716.7 765.5 1724.3 743.7 1732.0 724.0C1739.6 704.3 1747.2 689.0 1754.9 662.0C1762.5 635.0 1770.2 602.3 1777.8 562.0C1785.5 521.7 1793.1 459.5 1800.7 420.0C1808.4 380.5 1816.0 367.0 1823.7 325.0C1831.3 283.0 1839.0 186.2 1846.6 168.0C1854.2 149.8 1861.9 188.2 1869.5 216.0C1877.2 243.8 1884.8 302.5 1892.5 335.0C1900.1 367.5 1907.7 388.7 1915.4 411.0C1923.0 433.3 1930.7 453.4 1938.3 469.0C1942.1 476.8 1946.0 480.5 1949.8 481.0C1953.6 481.5 1957.4 483.3 1961.2 472.0C1968.9 449.3 1976.5 408.0 1984.2 379.0C1991.8 350.0 1999.5 316.5 2007.1 298.0C2014.8 279.5 2022.4 277.0 2030.0 268.0C2037.7 259.0 2045.3 228.7 2053.0 244.0C2060.6 259.3 2068.3 318.5 2075.9 360.0C2083.5 401.5 2091.2 447.0 2098.8 493.0C2106.5 539.0 2114.1 591.2 2121.8 636.0C2129.4 680.8 2137.0 733.0 2144.7 762.0C2152.3 791.0 2160.0 798.2 2167.6 810.0C2175.3 821.8 2182.9 826.8 2190.6 832.6C2198.2 838.4 2205.8 841.7 2213.5 844.6C2221.1 847.5 2228.8 848.9 2236.4 850.0C2244.1 851.1 2251.7 850.8 2259.3 851.0C2267.0 851.2 2274.6 851.0 2282.3 851.0C2289.9 851.0 2297.6 851.0 2305.2 851.0C2312.8 851.0 2320.5 851.0 2328.1 851.0C2335.8 851.0 2343.4 851.0 2351.1 851.0C2358.7 851.0 2366.3 851.0 2374.0 851.0C2377.8 851.0 2381.7 851.0 2385.5 851.0" fill="none" stroke="#f02a5c" stroke-width="5.0" stroke-linejoin="round"/>
<circle cx="1388.0" cy="851.0" r="8.0" fill="#ff1420"/>
<circle cx="1410.9" cy="851.0" r="8.0" fill="#ff1420"/>
<circle cx="1433.9" cy="851.0" r="8.0" fill="#ff1420"/>
<circle cx="1456.8" cy="851.0" r="8.0" fill="#ff1420"/>
<circle cx="1479.7" cy="851.0" r="8.0" fill="#ff1420"/>
<circle cx="1502.7" cy="851.0" r="8.0" fill="#ff1420"/>
<circle cx="1525.6" cy="851.0" r="8.0" fill="#ff1420"/>
<circle cx="1548.5" cy="850.0" r="8.0" fill="#ff1420"/>
<circle cx="1571.4" cy="845.7" r="8.0" fill="#ff1420"/>
<circle cx="1594.4" cy="841.3" r="8.0" fill="#ff1420"/>
<circle cx="1617.3" cy="830.4" r="8.0" fill="#ff1420"/>
<circle cx="1640.2" cy="838.0" r="8.0" fill="#ff1420"/>
<circle cx="1663.2" cy="819.0" r="8.0" fill="#ff1420"/>
<circle cx="1686.1" cy="811.0" r="8.0" fill="#ff1420"/>
<circle cx="1709.0" cy="780.0" r="8.0" fill="#ff1420"/>
<circle cx="1732.0" cy="724.0" r="8.0" fill="#ff1420"/>
<circle cx="1754.9" cy="662.0" r="8.0" fill="#ff1420"/>
<circle cx="1777.8" cy="562.0" r="8.0" fill="#ff1420"/>
<circle cx="1800.7" cy="420.0" r="8.0" fill="#ff1420"/>
<circle cx="1823.7" cy="325.0" r="8.0" fill="#ff1420"/>
<circle cx="1846.6" cy="168.0" r="8.0" fill="#ff1420"/>
<circle cx="1869.5" cy="216.0" r="8.0" fill="#ff1420"/>
<circle cx="1892.5" cy="335.0" r="8.0" fill="#ff1420"/>
<circle cx="1915.4" cy="411.0" r="8.0" fill="#ff1420"/>
<circle cx="1938.3" cy="469.0" r="8.0" fill="#ff1420"/>
<circle cx="1961.2" cy="472.0" r="8.0" fill="#ff1420"/>
<circle cx="1984.2" cy="379.0" r="8.0" fill="#ff1420"/>
<circle cx="2007.1" cy="298.0" r="8.0" fill="#ff1420"/>
<circle cx="2030.0" cy="268.0" r="8.0" fill="#ff1420"/>
<circle cx="2053.0" cy="244.0" r="8.0" fill="#ff1420"/>
<circle cx="2075.9" cy="360.0" r="8.0" fill="#ff1420"/>
<circle cx="2098.8" cy="493.0" r="8.0" fill="#ff1420"/>
<circle cx="2121.8" cy="636.0" r="8.0" fill="#ff1420"/>
<circle cx="2144.7" cy="762.0" r="8.0" fill="#ff1420"/>
<circle cx="2167.6" cy="810.0" r="8.0" fill="#ff1420"/>
<circle cx="2190.6" cy="832.6" r="8.0" fill="#ff1420"/>
<circle cx="2213.5" cy="844.6" r="8.0" fill="#ff1420"/>
<circle cx="2236.4" cy="850.0" r="8.0" fill="#ff1420"/>
<circle cx="2259.3" cy="851.0" r="8.0" fill="#ff1420"/>
<circle cx="2282.3" cy="851.0" r="8.0" fill="#ff1420"/>
<circle cx="2305.2" cy="851.0" r="8.0" fill="#ff1420"/>
<circle cx="2328.1" cy="851.0" r="8.0" fill="#ff1420"/>
<circle cx="2351.1" cy="851.0" r="8.0" fill="#ff1420"/>
<circle cx="2374.0" cy="851.0" r="8.0" fill="#ff1420"/>
<path d="M1376.5 851.0C1380.3 851.0 1384.2 851.0 1388.0 851.0C1395.6 851.0 1403.3 851.0 1410.9 851.0C1418.6 851.0 1426.2 851.5 1433.9 851.0C1441.5 850.5 1449.1 850.9 1456.8 847.8C1464.4 844.8 1472.1 835.5 1479.7 832.6C1487.4 829.7 1495.0 829.3 1502.7 830.4C1510.3 831.5 1517.9 838.0 1525.6 839.1C1533.2 840.2 1540.9 842.0 1548.5 837.0C1556.2 831.9 1563.8 812.8 1571.4 809.0C1579.1 805.2 1586.7 818.8 1594.4 814.0C1602.0 809.2 1609.7 787.2 1617.3 780.0C1624.9 772.8 1632.6 776.3 1640.2 771.0C1647.9 765.7 1655.5 757.5 1663.2 748.0C1670.8 738.5 1678.4 735.3 1686.1 714.0C1693.7 692.7 1701.4 663.3 1709.0 620.0C1716.7 576.7 1724.3 492.0 1732.0 454.0C1739.6 416.0 1747.2 416.2 1754.9 392.0C1762.5 367.8 1770.2 342.0 1777.8 309.0C1785.5 276.0 1793.1 190.7 1800.7 194.0C1808.4 197.3 1816.0 306.5 1823.7 329.0C1831.3 351.5 1839.0 309.2 1846.6 329.0C1854.2 348.8 1861.9 415.8 1869.5 448.0C1873.4 464.1 1877.2 472.8 1881.0 474.0C1884.8 475.2 1888.6 468.4 1892.5 455.0C1900.1 428.1 1907.7 365.3 1915.4 353.0C1923.0 340.7 1930.7 373.8 1938.3 381.0C1946.0 388.2 1953.6 408.5 1961.2 396.0C1968.9 383.5 1976.5 308.3 1984.2 306.0C1991.8 303.7 1999.5 358.0 2007.1 382.0C2014.8 406.0 2022.4 421.7 2030.0 450.0C2037.7 478.3 2045.3 521.3 2053.0 552.0C2060.6 582.7 2068.3 601.0 2075.9 634.0C2083.5 667.0 2091.2 722.3 2098.8 750.0C2106.5 777.7 2114.1 784.4 2121.8 800.0C2129.4 815.6 2137.0 839.1 2144.7 843.5C2152.3 847.8 2160.0 825.5 2167.6 826.1C2175.3 826.6 2182.9 842.6 2190.6 846.7C2198.2 850.9 2205.8 850.3 2213.5 851.0C2221.1 851.7 2228.8 851.0 2236.4 851.0C2244.1 851.0 2251.7 851.0 2259.3 851.0C2267.0 851.0 2274.6 851.0 2282.3 851.0C2289.9 851.0 2297.6 851.0 2305.2 851.0C2312.8 851.0 2320.5 851.0 2328.1 851.0C2335.8 851.0 2343.4 851.0 2351.1 851.0C2358.7 851.0 2366.3 851.0 2374.0 851.0C2377.8 851.0 2381.7 851.0 2385.5 851.0" fill="none" stroke="#3444ff" stroke-width="5.0" stroke-linejoin="round"/>
<polygon points="1388.0,840.0 1397.4,856.6 1378.6,856.6" fill="#2436ff"/>
<polygon points="1410.9,840.0 1420.3,856.6 1401.5,856.6" fill="#2436ff"/>
<polygon points="1433.9,840.0 1443.3,856.6 1424.5,856.6" fill="#2436ff"/>
<polygon points="1456.8,836.8 1466.2,853.4 1447.4,853.4" fill="#2436ff"/>
<polygon points="1479.7,821.6 1489.1,838.2 1470.3,838.2" fill="#2436ff"/>
<polygon points="1502.7,819.4 1512.1,836.0 1493.2,836.0" fill="#2436ff"/>
<polygon points="1525.6,828.1 1535.0,844.7 1516.2,844.7" fill="#2436ff"/>
<polygon points="1548.5,826.0 1557.9,842.6 1539.1,842.6" fill="#2436ff"/>
<polygon points="1571.4,798.0 1580.8,814.6 1562.0,814.6" fill="#2436ff"/>
<polygon points="1594.4,803.0 1603.8,819.6 1585.0,819.6" fill="#2436ff"/>
<polygon points="1617.3,769.0 1626.7,785.6 1607.9,785.6" fill="#2436ff"/>
<polygon points="1640.2,760.0 1649.6,776.6 1630.8,776.6" fill="#2436ff"/>
<polygon points="1663.2,737.0 1672.6,753.6 1653.8,753.6" fill="#2436ff"/>
<polygon points="1686.1,703.0 1695.5,719.6 1676.7,719.6" fill="#2436ff"/>
<polygon points="1709.0,609.0 1718.4,625.6 1699.6,625.6" fill="#2436ff"/>
<polygon points="1732.0,443.0 1741.4,459.6 1722.5,459.6" fill="#2436ff"/>
<polygon points="1754.9,381.0 1764.3,397.6 1745.5,397.6" fill="#2436ff"/>
<polygon points="1777.8,298.0 1787.2,314.6 1768.4,314.6" fill="#2436ff"/>
<polygon points="1800.7,183.0 1810.1,199.6 1791.3,199.6" fill="#2436ff"/>
<polygon points="1823.7,318.0 1833.1,334.6 1814.3,334.6" fill="#2436ff"/>
<polygon points="1846.6,318.0 1856.0,334.6 1837.2,334.6" fill="#2436ff"/>
<polygon points="1869.5,437.0 1878.9,453.6 1860.1,453.6" fill="#2436ff"/>
<polygon points="1892.5,444.0 1901.9,460.6 1883.1,460.6" fill="#2436ff"/>
<polygon points="1915.4,342.0 1924.8,358.6 1906.0,358.6" fill="#2436ff"/>
<polygon points="1938.3,370.0 1947.7,386.6 1928.9,386.6" fill="#2436ff"/>
<polygon points="1961.2,385.0 1970.7,401.6 1951.8,401.6" fill="#2436ff"/>
<polygon points="1984.2,295.0 1993.6,311.6 1974.8,311.6" fill="#2436ff"/>
<polygon points="2007.1,371.0 2016.5,387.6 1997.7,387.6" fill="#2436ff"/>
<polygon points="2030.0,439.0 2039.4,455.6 2020.6,455.6" fill="#2436ff"/>
<polygon points="2053.0,541.0 2062.4,557.6 2043.6,557.6" fill="#2436ff"/>
<polygon points="2075.9,623.0 2085.3,639.6 2066.5,639.6" fill="#2436ff"/>
<polygon points="2098.8,739.0 2108.2,755.6 2089.4,755.6" fill="#2436ff"/>
<polygon points="2121.8,789.0 2131.2,805.6 2112.4,805.6" fill="#2436ff"/>
<polygon points="2144.7,832.5 2154.1,849.1 2135.3,849.1" fill="#2436ff"/>
<polygon points="2167.6,815.1 2177.0,831.7 2158.2,831.7" fill="#2436ff"/>
<polygon points="2190.6,835.7 2200.0,852.3 2181.2,852.3" fill="#2436ff"/>
<polygon points="2213.5,840.0 2222.9,856.6 2204.1,856.6" fill="#2436ff"/>
<polygon points="2236.4,840.0 2245.8,856.6 2227.0,856.6" fill="#2436ff"/>
<polygon points="2259.3,840.0 2268.7,856.6 2249.9,856.6" fill="#2436ff"/>
<polygon points="2282.3,840.0 2291.7,856.6 2272.9,856.6" fill="#2436ff"/>
<polygon points="2305.2,840.0 2314.6,856.6 2295.8,856.6" fill="#2436ff"/>
<polygon points="2328.1,840.0 2337.5,856.6 2318.7,856.6" fill="#2436ff"/>
<polygon points="2351.1,840.0 2360.5,856.6 2341.7,856.6" fill="#2436ff"/>
<polygon points="2374.0,840.0 2383.4,856.6 2364.6,856.6" fill="#2436ff"/>
<path d="M1376.5 851.0C1380.3 851.0 1384.2 851.0 1388.0 851.0C1395.6 851.0 1403.3 851.0 1410.9 851.0C1418.6 851.0 1426.2 851.2 1433.9 851.0C1441.5 850.8 1449.1 850.5 1456.8 850.0C1464.4 849.5 1472.1 848.9 1479.7 847.8C1487.4 846.7 1495.0 845.3 1502.7 843.5C1510.3 841.7 1517.9 839.1 1525.6 837.0C1533.2 834.8 1540.9 832.9 1548.5 830.4C1556.2 827.9 1563.8 825.4 1571.4 822.0C1579.1 818.6 1586.7 817.0 1594.4 810.0C1602.0 803.0 1609.7 791.3 1617.3 780.0C1624.9 768.7 1632.6 760.5 1640.2 742.0C1647.9 723.5 1655.5 693.3 1663.2 669.0C1670.8 644.7 1678.4 626.0 1686.1 596.0C1693.7 566.0 1701.4 527.5 1709.0 489.0C1716.7 450.5 1724.3 402.2 1732.0 365.0C1739.6 327.8 1747.2 287.2 1754.9 266.0C1762.5 244.8 1770.2 237.3 1777.8 238.0C1785.5 238.7 1793.1 253.0 1800.7 270.0C1808.4 287.0 1816.0 324.8 1823.7 340.0C1831.3 355.2 1839.0 350.0 1846.6 361.0C1854.2 372.0 1861.9 401.7 1869.5 406.0C1877.2 410.3 1884.8 396.5 1892.5 387.0C1900.1 377.5 1907.7 358.8 1915.4 349.0C1923.0 339.2 1930.7 327.8 1938.3 328.0C1946.0 328.2 1953.6 339.2 1961.2 350.0C1968.9 360.8 1976.5 373.2 1984.2 393.0C1991.8 412.8 1999.5 436.2 2007.1 469.0C2014.8 501.8 2022.4 553.7 2030.0 590.0C2037.7 626.3 2045.3 658.7 2053.0 687.0C2060.6 715.3 2068.3 739.8 2075.9 760.0C2083.5 780.2 2091.2 795.9 2098.8 808.0C2106.5 820.1 2114.1 827.1 2121.8 832.6C2129.4 838.2 2137.0 838.9 2144.7 841.3C2152.3 843.7 2160.0 845.3 2167.6 846.7C2175.3 848.2 2182.9 849.3 2190.6 850.0C2198.2 850.7 2205.8 850.8 2213.5 851.0C2221.1 851.2 2228.8 851.0 2236.4 851.0C2244.1 851.0 2251.7 851.0 2259.3 851.0C2267.0 851.0 2274.6 851.0 2282.3 851.0C2289.9 851.0 2297.6 851.0 2305.2 851.0C2312.8 851.0 2320.5 851.0 2328.1 851.0C2335.8 851.0 2343.4 851.0 2351.1 851.0C2358.7 851.0 2366.3 851.0 2374.0 851.0C2377.8 851.0 2381.7 851.0 2385.5 851.0" fill="none" stroke="#2cc48a" stroke-width="5.0" stroke-linejoin="round"/>
<polygon points="1456.8,861.0 1466.2,844.4 1447.4,844.4" fill="#22a884"/>
<polygon points="1479.7,858.8 1489.1,842.2 1470.3,842.2" fill="#22a884"/>
<polygon points="1502.7,854.5 1512.1,837.9 1493.2,837.9" fill="#22a884"/>
<polygon points="1525.6,848.0 1535.0,831.4 1516.2,831.4" fill="#22a884"/>
<polygon points="1548.5,841.4 1557.9,824.8 1539.1,824.8" fill="#22a884"/>
<polygon points="1571.4,833.0 1580.8,816.4 1562.0,816.4" fill="#22a884"/>
<polygon points="1594.4,821.0 1603.8,804.4 1585.0,804.4" fill="#22a884"/>
<polygon points="1617.3,791.0 1626.7,774.4 1607.9,774.4" fill="#22a884"/>
<polygon points="1640.2,753.0 1649.6,736.4 1630.8,736.4" fill="#22a884"/>
<polygon points="1663.2,680.0 1672.6,663.4 1653.8,663.4" fill="#22a884"/>
<polygon points="1686.1,607.0 1695.5,590.4 1676.7,590.4" fill="#22a884"/>
<polygon points="1709.0,500.0 1718.4,483.4 1699.6,483.4" fill="#22a884"/>
<polygon points="1732.0,376.0 1741.4,359.4 1722.5,359.4" fill="#22a884"/>
<polygon points="1754.9,277.0 1764.3,260.4 1745.5,260.4" fill="#22a884"/>
<polygon points="1777.8,249.0 1787.2,232.4 1768.4,232.4" fill="#22a884"/>
<polygon points="1800.7,281.0 1810.1,264.4 1791.3,264.4" fill="#22a884"/>
<polygon points="1823.7,351.0 1833.1,334.4 1814.3,334.4" fill="#22a884"/>
<polygon points="1846.6,372.0 1856.0,355.4 1837.2,355.4" fill="#22a884"/>
<polygon points="1869.5,417.0 1878.9,400.4 1860.1,400.4" fill="#22a884"/>
<polygon points="1892.5,398.0 1901.9,381.4 1883.1,381.4" fill="#22a884"/>
<polygon points="1915.4,360.0 1924.8,343.4 1906.0,343.4" fill="#22a884"/>
<polygon points="1938.3,339.0 1947.7,322.4 1928.9,322.4" fill="#22a884"/>
<polygon points="1961.2,361.0 1970.7,344.4 1951.8,344.4" fill="#22a884"/>
<polygon points="1984.2,404.0 1993.6,387.4 1974.8,387.4" fill="#22a884"/>
<polygon points="2007.1,480.0 2016.5,463.4 1997.7,463.4" fill="#22a884"/>
<polygon points="2030.0,601.0 2039.4,584.4 2020.6,584.4" fill="#22a884"/>
<polygon points="2053.0,698.0 2062.4,681.4 2043.6,681.4" fill="#22a884"/>
<polygon points="2075.9,771.0 2085.3,754.4 2066.5,754.4" fill="#22a884"/>
<polygon points="2098.8,819.0 2108.2,802.4 2089.4,802.4" fill="#22a884"/>
<polygon points="2121.8,843.6 2131.2,827.0 2112.4,827.0" fill="#22a884"/>
<polygon points="2144.7,852.3 2154.1,835.7 2135.3,835.7" fill="#22a884"/>
<polygon points="2167.6,857.7 2177.0,841.1 2158.2,841.1" fill="#22a884"/>
<polygon points="2190.6,861.0 2200.0,844.4 2181.2,844.4" fill="#22a884"/>
<path d="M1376.5 851.0C1380.3 851.0 1384.2 851.0 1388.0 851.0C1395.6 851.0 1403.3 851.0 1410.9 851.0C1418.6 851.0 1426.2 851.0 1433.9 851.0C1441.5 851.0 1449.1 851.0 1456.8 851.0C1464.4 851.0 1472.1 851.0 1479.7 851.0C1487.4 851.0 1495.0 851.0 1502.7 851.0C1510.3 851.0 1517.9 851.0 1525.6 851.0C1533.2 851.0 1540.9 851.0 1548.5 851.0C1556.2 851.0 1563.8 851.0 1571.4 851.0C1579.1 851.0 1586.7 851.0 1594.4 851.0C1602.0 851.0 1609.7 851.0 1617.3 851.0C1624.9 851.0 1632.6 851.0 1640.2 851.0C1647.9 851.0 1655.5 852.3 1663.2 851.0C1670.8 849.7 1678.4 845.5 1686.1 843.5C1693.7 841.5 1701.4 839.9 1709.0 839.1C1716.7 838.4 1724.3 841.7 1732.0 839.1C1739.6 836.6 1747.2 826.2 1754.9 824.0C1762.5 821.8 1770.2 835.8 1777.8 826.1C1785.5 816.4 1793.1 797.7 1800.7 766.0C1808.4 734.3 1816.0 668.7 1823.7 636.0C1831.3 603.3 1839.0 618.8 1846.6 570.0C1854.2 521.2 1861.9 404.0 1869.5 343.0C1877.2 282.0 1884.8 241.0 1892.5 204.0C1900.1 167.0 1907.7 127.8 1915.4 121.0C1923.0 114.2 1930.7 121.3 1938.3 163.0C1946.0 204.7 1953.6 323.3 1961.2 371.0C1968.9 418.7 1976.5 424.8 1984.2 449.0C1991.8 473.2 1999.5 498.1 2007.1 516.0C2010.2 523.1 2013.2 526.8 2016.3 524.0C2020.9 519.8 2025.5 518.1 2030.0 495.0C2037.7 456.5 2045.3 393.2 2053.0 339.0C2060.6 284.8 2068.3 182.2 2075.9 170.0C2083.5 157.8 2091.2 250.7 2098.8 266.0C2106.5 281.3 2114.1 248.0 2121.8 262.0C2129.4 276.0 2137.0 300.3 2144.7 350.0C2152.3 399.7 2160.0 502.7 2167.6 560.0C2175.3 617.3 2182.9 657.3 2190.6 694.0C2198.2 730.7 2205.8 756.9 2213.5 780.0C2221.1 803.1 2228.8 821.1 2236.4 832.6C2244.1 844.1 2251.7 845.8 2259.3 848.9C2267.0 852.0 2274.6 850.7 2282.3 851.0C2289.9 851.3 2297.6 851.0 2305.2 851.0C2312.8 851.0 2320.5 851.0 2328.1 851.0C2335.8 851.0 2343.4 851.0 2351.1 851.0C2358.7 851.0 2366.3 851.0 2374.0 851.0C2377.8 851.0 2381.7 851.0 2385.5 851.0" fill="none" stroke="#cb5cf3" stroke-width="5.0" stroke-linejoin="round"/>
<path d="M1379.5 852 C1383.5 838 1392.5 838 1396.5 852z" fill="#c450f0"/>
<path d="M1402.4 852 C1406.4 838 1415.4 838 1419.4 852z" fill="#c450f0"/>
<path d="M1425.4 852 C1429.4 838 1438.4 838 1442.4 852z" fill="#c450f0"/>
<path d="M1448.3 852 C1452.3 838 1461.3 838 1465.3 852z" fill="#c450f0"/>
<path d="M1471.2 852 C1475.2 838 1484.2 838 1488.2 852z" fill="#c450f0"/>
<path d="M1494.2 852 C1498.2 838 1507.2 838 1511.2 852z" fill="#c450f0"/>
<path d="M1517.1 852 C1521.1 838 1530.1 838 1534.1 852z" fill="#c450f0"/>
<path d="M1540.0 852 C1544.0 838 1553.0 838 1557.0 852z" fill="#c450f0"/>
<path d="M1562.9 852 C1566.9 838 1575.9 838 1579.9 852z" fill="#c450f0"/>
<path d="M1585.9 852 C1589.9 838 1598.9 838 1602.9 852z" fill="#c450f0"/>
<path d="M1608.8 852 C1612.8 838 1621.8 838 1625.8 852z" fill="#c450f0"/>
<path d="M1631.7 852 C1635.7 838 1644.7 838 1648.7 852z" fill="#c450f0"/>
<path d="M1654.7 852 C1658.7 838 1667.7 838 1671.7 852z" fill="#c450f0"/>
<polygon points="1675.1,843.5 1691.7,834.1 1691.7,852.9" fill="#c450f0"/>
<polygon points="1698.0,839.1 1714.6,829.7 1714.6,848.5" fill="#c450f0"/>
<polygon points="1721.0,839.1 1737.5,829.7 1737.5,848.5" fill="#c450f0"/>
<polygon points="1743.9,824.0 1760.5,814.6 1760.5,833.4" fill="#c450f0"/>
<polygon points="1766.8,826.1 1783.4,816.7 1783.4,835.5" fill="#c450f0"/>
<polygon points="1789.7,766.0 1806.3,756.6 1806.3,775.4" fill="#c450f0"/>
<polygon points="1812.7,636.0 1829.3,626.6 1829.3,645.4" fill="#c450f0"/>
<polygon points="1835.6,570.0 1852.2,560.6 1852.2,579.4" fill="#c450f0"/>
<polygon points="1858.5,343.0 1875.1,333.6 1875.1,352.4" fill="#c450f0"/>
<polygon points="1881.5,204.0 1898.1,194.6 1898.1,213.4" fill="#c450f0"/>
<polygon points="1904.4,121.0 1921.0,111.6 1921.0,130.4" fill="#c450f0"/>
<polygon points="1927.3,163.0 1943.9,153.6 1943.9,172.4" fill="#c450f0"/>
<polygon points="1950.2,371.0 1966.8,361.6 1966.8,380.4" fill="#c450f0"/>
<polygon points="1973.2,449.0 1989.8,439.6 1989.8,458.4" fill="#c450f0"/>
<polygon points="1996.1,516.0 2012.7,506.6 2012.7,525.4" fill="#c450f0"/>
<polygon points="2019.0,495.0 2035.6,485.6 2035.6,504.4" fill="#c450f0"/>
<polygon points="2042.0,339.0 2058.6,329.6 2058.6,348.4" fill="#c450f0"/>
<polygon points="2064.9,170.0 2081.5,160.6 2081.5,179.4" fill="#c450f0"/>
<polygon points="2087.8,266.0 2104.4,256.6 2104.4,275.4" fill="#c450f0"/>
<polygon points="2110.8,262.0 2127.4,252.6 2127.4,271.4" fill="#c450f0"/>
<polygon points="2133.7,350.0 2150.3,340.6 2150.3,359.4" fill="#c450f0"/>
<polygon points="2156.6,560.0 2173.2,550.6 2173.2,569.4" fill="#c450f0"/>
<polygon points="2179.6,694.0 2196.2,684.6 2196.2,703.4" fill="#c450f0"/>
<polygon points="2202.5,780.0 2219.1,770.6 2219.1,789.4" fill="#c450f0"/>
<polygon points="2225.4,832.6 2242.0,823.2 2242.0,842.0" fill="#c450f0"/>
<polygon points="2248.3,848.9 2264.9,839.5 2264.9,858.3" fill="#c450f0"/>
<path d="M2273.8 852 C2277.8 838 2286.8 838 2290.8 852z" fill="#c450f0"/>
<path d="M2296.7 852 C2300.7 838 2309.7 838 2313.7 852z" fill="#c450f0"/>
<path d="M2319.6 852 C2323.6 838 2332.6 838 2336.6 852z" fill="#c450f0"/>
<path d="M2342.6 852 C2346.6 838 2355.6 838 2359.6 852z" fill="#c450f0"/>
<path d="M2365.5 852 C2369.5 838 2378.5 838 2382.5 852z" fill="#c450f0"/>
</g>
<path d="M294.5 174.0 H424.0" stroke="#0a0a0a" stroke-width="5" fill="none"/><rect x="352.4" y="166.9" width="14.2" height="14.2" rx="1.5" fill="#000000"/><text x="437.8" y="193.5" font-size="57.0" text-anchor="start" font-family="Liberation Sans, Arial, sans-serif" fill="#0c0c0c" stroke="#0c0c0c" stroke-width="0.6" >Bare</text>
<path d="M294.5 243.0 H424.0" stroke="#f02a5c" stroke-width="5" fill="none"/><circle cx="359.5" cy="243.0" r="8.0" fill="#ff1420"/><text x="438.5" y="263.0" font-size="57.0" text-anchor="start" font-family="Liberation Sans, Arial, sans-serif" fill="#0c0c0c" stroke="#0c0c0c" stroke-width="0.6" >Wet</text>
<path d="M294.5 313.0 H424.0" stroke="#3444ff" stroke-width="5" fill="none"/><polygon points="359.5,302.0 368.9,318.6 350.1,318.6" fill="#2436ff"/><text x="437.5" y="333.0" font-size="57.0" text-anchor="start" font-family="Liberation Sans, Arial, sans-serif" fill="#0c0c0c" stroke="#0c0c0c" stroke-width="0.6" >Dry</text>
<path d="M1392.5 94.5 H1522.5" stroke="#0a0a0a" stroke-width="5" fill="none"/><rect x="1450.4" y="87.4" width="14.2" height="14.2" rx="1.5" fill="#000000"/><text x="1536.5" y="114.0" font-size="56.5" text-anchor="start" font-family="Liberation Sans, Arial, sans-serif" fill="#0c0c0c" stroke="#0c0c0c" stroke-width="0.6" >300K</text>
<path d="M1392.5 164.3 H1522.5" stroke="#f02a5c" stroke-width="5" fill="none"/><circle cx="1457.5" cy="164.3" r="8.0" fill="#ff1420"/><text x="1536.5" y="183.8" font-size="56.5" text-anchor="start" font-family="Liberation Sans, Arial, sans-serif" fill="#0c0c0c" stroke="#0c0c0c" stroke-width="0.6" >340K</text>
<path d="M1392.5 234.1 H1522.5" stroke="#3444ff" stroke-width="5" fill="none"/><polygon points="1457.5,223.1 1466.9,239.7 1448.1,239.7" fill="#2436ff"/><text x="1536.5" y="253.6" font-size="56.5" text-anchor="start" font-family="Liberation Sans, Arial, sans-serif" fill="#0c0c0c" stroke="#0c0c0c" stroke-width="0.6" >380K</text>
<path d="M1392.5 303.9 H1522.5" stroke="#2cc48a" stroke-width="5" fill="none"/><polygon points="1457.5,314.9 1466.9,298.3 1448.1,298.3" fill="#22a884"/><text x="1536.5" y="323.4" font-size="56.5" text-anchor="start" font-family="Liberation Sans, Arial, sans-serif" fill="#0c0c0c" stroke="#0c0c0c" stroke-width="0.6" >400K</text>
<path d="M1392.5 373.7 H1522.5" stroke="#cb5cf3" stroke-width="5" fill="none"/><polygon points="1446.5,373.7 1463.1,364.3 1463.1,383.1" fill="#c450f0"/><text x="1536.5" y="393.2" font-size="56.5" text-anchor="start" font-family="Liberation Sans, Arial, sans-serif" fill="#0c0c0c" stroke="#0c0c0c" stroke-width="0.6" >Cooled</text>
</svg>
</body></html>
